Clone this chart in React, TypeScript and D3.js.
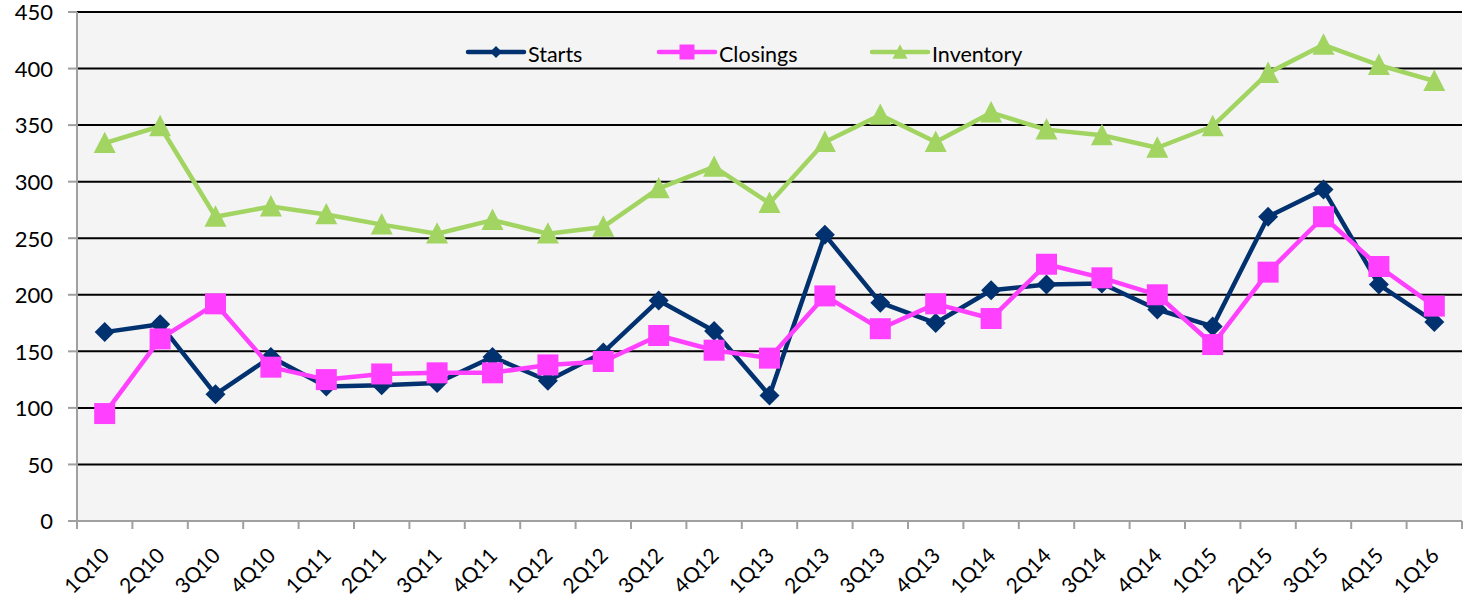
import React from "react";
import * as d3 from "d3";

const categories = ["1Q10","2Q10","3Q10","4Q10","1Q11","2Q11","3Q11","4Q11","1Q12","2Q12","3Q12","4Q12","1Q13","2Q13","3Q13","4Q13","1Q14","2Q14","3Q14","4Q14","1Q15","2Q15","3Q15","4Q15","1Q16"];
const starts = [167,174,112,145,119,120,122,145,124,149,195,168,111,253,193,175,204,209,210,187,172,269,293,209,176];
const closings = [95,161,192,136,125,130,131,131,138,141,164,151,144,199,170,192,179,227,215,200,156,220,269,225,190];
const inventory = [334,349,269,278,271,262,254,266,254,260,294,313,281,335,359,335,361,346,341,330,349,396,421,403,389];
const yTicks = [0,50,100,150,200,250,300,350,400,450];

const W = 1466, H = 600;
const left = 77, right = 1462, top = 12, bottom = 521;
const FONT = "Lato, 'Open Sans', sans-serif";

const NAVY = "#02316f";
const MAGENTA = "#ff40ff";
const GREEN = "#a2d462";

export default function App() {
  const x = d3.scaleBand<string>().domain(categories).range([left, right]).padding(0);
  const y = d3.scaleLinear().domain([0, 450]).range([bottom, top]);
  const cx = (c: string) => (x(c) as number) + x.bandwidth() / 2;
  const line = d3.line<[number, number]>().x(d => d[0]).y(d => d[1]);

  const pts = (vals: number[]) => categories.map((c, i) => [cx(c), y(vals[i])] as [number, number]);

  const diamond = (px: number, py: number, r: number) =>
    `M${px},${py - r}L${px + r},${py}L${px},${py + r}L${px - r},${py}Z`;
  const square = (px: number, py: number, r: number) =>
    `M${px - r},${py - r}H${px + r}V${py + r}H${px - r}Z`;
  const triangle = (px: number, py: number, r: number) =>
    `M${px},${py - r * 1.05}L${px + r},${py + r * 0.9}L${px - r},${py + r * 0.9}Z`;

  const series = [
    { name: "Starts", vals: starts, color: NAVY, marker: diamond, r: 10, lr: 6 },
    { name: "Closings", vals: closings, color: MAGENTA, marker: square, r: 10.5, lr: 7.5 },
    { name: "Inventory", vals: inventory, color: GREEN, marker: triangle, r: 11, lr: 7.5 },
  ];
  const legendX = [468, 659, 872];
  const legendY = 52;

  return (
    <svg width={W} height={H} style={{ position: "absolute", left: 0, top: 0, background: "#fff" }}>
      <rect x={left} y={top} width={right - left} height={bottom - top} fill="#f4f4f4" />
      {yTicks.filter(t => t > 0).map(t => (
        <line key={t} x1={left} x2={right} y1={y(t)} y2={y(t)} stroke="#000" strokeWidth={2} />
      ))}
      {/* y axis */}
      <line x1={left} x2={left} y1={top} y2={bottom} stroke="#a0a0a0" strokeWidth={2} />
      {yTicks.map(t => (
        <g key={t}>
          <line x1={68} x2={left} y1={y(t)} y2={y(t)} stroke="#a0a0a0" strokeWidth={2} />
          <text x={53} y={y(t)} dy="0.38em" textAnchor="end" fontFamily={FONT} fontSize={22} fill="#000">{t}</text>
        </g>
      ))}
      {/* x axis */}
      <line x1={left} x2={right} y1={bottom} y2={bottom} stroke="#a0a0a0" strokeWidth={2} />
      {categories.map(c => (
        <line key={c} x1={x(c) as number} x2={x(c) as number} y1={bottom} y2={bottom + 8} stroke="#a0a0a0" strokeWidth={2} />
      ))}
      <line x1={right} x2={right} y1={bottom} y2={bottom + 8} stroke="#a0a0a0" strokeWidth={2} />
      {categories.map(c => (
        <text key={c} transform={`translate(${cx(c) + 6},${bottom + 36}) rotate(-45)`} textAnchor="end"
          fontFamily={FONT} fontSize={21} fill="#000">{c}</text>
      ))}
      {/* series */}
      {series.map(s => (
        <g key={s.name}>
          <path d={line(pts(s.vals)) as string} fill="none" stroke={s.color} strokeWidth={4.5} strokeLinejoin="round" />
          {pts(s.vals).map((p, i) => (
            <path key={i} d={s.marker(p[0], p[1], s.r)} fill={s.color} />
          ))}
        </g>
      ))}
      {/* legend */}
      {series.map((s, i) => (
        <g key={s.name}>
          <line x1={legendX[i]} x2={legendX[i] + 56} y1={legendY} y2={legendY} stroke={s.color} strokeWidth={4.5} strokeLinecap="round" />
          <path d={s.marker(legendX[i] + 28, legendY, s.lr)} fill={s.color} />
          <text x={legendX[i] + 60} y={legendY + 9.5} fontFamily={FONT} fontSize={21.5} fill="#000">{s.name}</text>
        </g>
      ))}
    </svg>
  );
}
